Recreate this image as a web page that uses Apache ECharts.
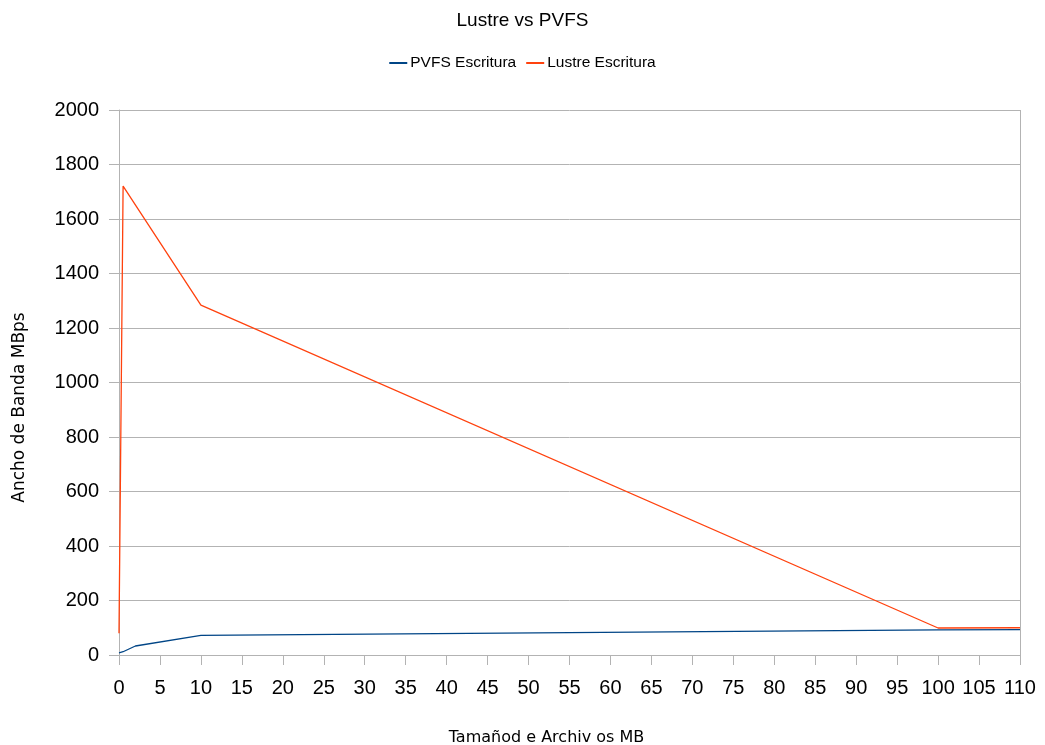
<!DOCTYPE html>
<html><head><meta charset="utf-8">
<script src="https://cdn.jsdelivr.net/npm/echarts@6/dist/echarts.min.js"></script>
<style>html,body{margin:0;padding:0;background:#fff}#c{width:1045px;height:745px}</style>
</head><body><div id="c"></div>
<script>
const title = "Lustre vs PVFS";
const xName = "Tamañod e Archiv os MB";
const yName = "Ancho de Banda MBps";
const pvfsName = "PVFS Escritura";
const lustreName = "Lustre Escritura";
const pvfsX = [0, 0.5, 2, 10, 100, 110];
const pvfsY = [8, 12, 33, 72, 92, 93];
const lustreX = [0, 0.5, 10, 100, 110];
const lustreY = [80, 1721, 1284, 99, 100];

const font = "'Liberation Sans', Arial, sans-serif";
const nameFont = "'DejaVu Sans', sans-serif";
const chart = echarts.init(document.getElementById('c'));
chart.setOption({
  animation: false,
  title: {text: title, left: 'center', top: 6, textStyle: {fontFamily: font, fontSize: 19, fontWeight: 'normal', color: '#000'}},
  legend: {top: 50, left: 'center', itemWidth: 18, itemHeight: 2, icon: 'rect', itemGap: 10,
    textStyle: {fontFamily: font, fontSize: 15.5, color: '#000', padding: [0, 0, 0, -2]},
    data: [pvfsName, lustreName]},
  grid: {left: 119, right: 25, top: 110, bottom: 90, outerBoundsMode: 'none', containLabel: false},
  xAxis: {type: 'value', min: 0, max: 110, interval: 5,
    name: xName, nameLocation: 'middle', nameGap: 75,
    nameTextStyle: {fontFamily: nameFont, fontSize: 16, color: '#000', padding: [0, 46, 0, 0]},
    axisLine: {lineStyle: {color: '#b3b3b3'}},
    axisTick: {show: true, length: 10, lineStyle: {color: '#b3b3b3'}},
    axisLabel: {fontFamily: font, fontSize: 20, color: '#000', margin: 23},
    splitLine: {show: false}},
  yAxis: {type: 'value', min: 0, max: 2000, interval: 200,
    name: yName, nameLocation: 'middle', nameGap: 91,
    nameTextStyle: {fontFamily: nameFont, fontSize: 17, color: '#000', padding: [0, 50, 0, 0]},
    axisLine: {show: true, lineStyle: {color: '#b3b3b3'}},
    axisTick: {show: true, length: 10, lineStyle: {color: '#b3b3b3'}},
    axisLabel: {fontFamily: font, fontSize: 20, color: '#000', margin: 20, formatter: v => String(v)},
    splitLine: {show: true, lineStyle: {color: '#b3b3b3'}}},
  series: [
    {name: pvfsName, type: 'line', showSymbol: false, symbol: 'none', color: '#004586',
      lineStyle: {width: 1.3, color: '#004586'}, data: pvfsX.map((x, i) => [x, pvfsY[i]])},
    {name: lustreName, type: 'line', showSymbol: false, symbol: 'none', color: '#ff420e',
      lineStyle: {width: 1.3, color: '#ff420e'}, data: lustreX.map((x, i) => [x, lustreY[i]])},
    {type: 'line', data: [], markLine: {silent: true, symbol: 'none', label: {show: false},
      lineStyle: {color: '#b3b3b3', type: 'solid', width: 1}, data: [{xAxis: 110}]}}
  ]
});
</script></body></html>
